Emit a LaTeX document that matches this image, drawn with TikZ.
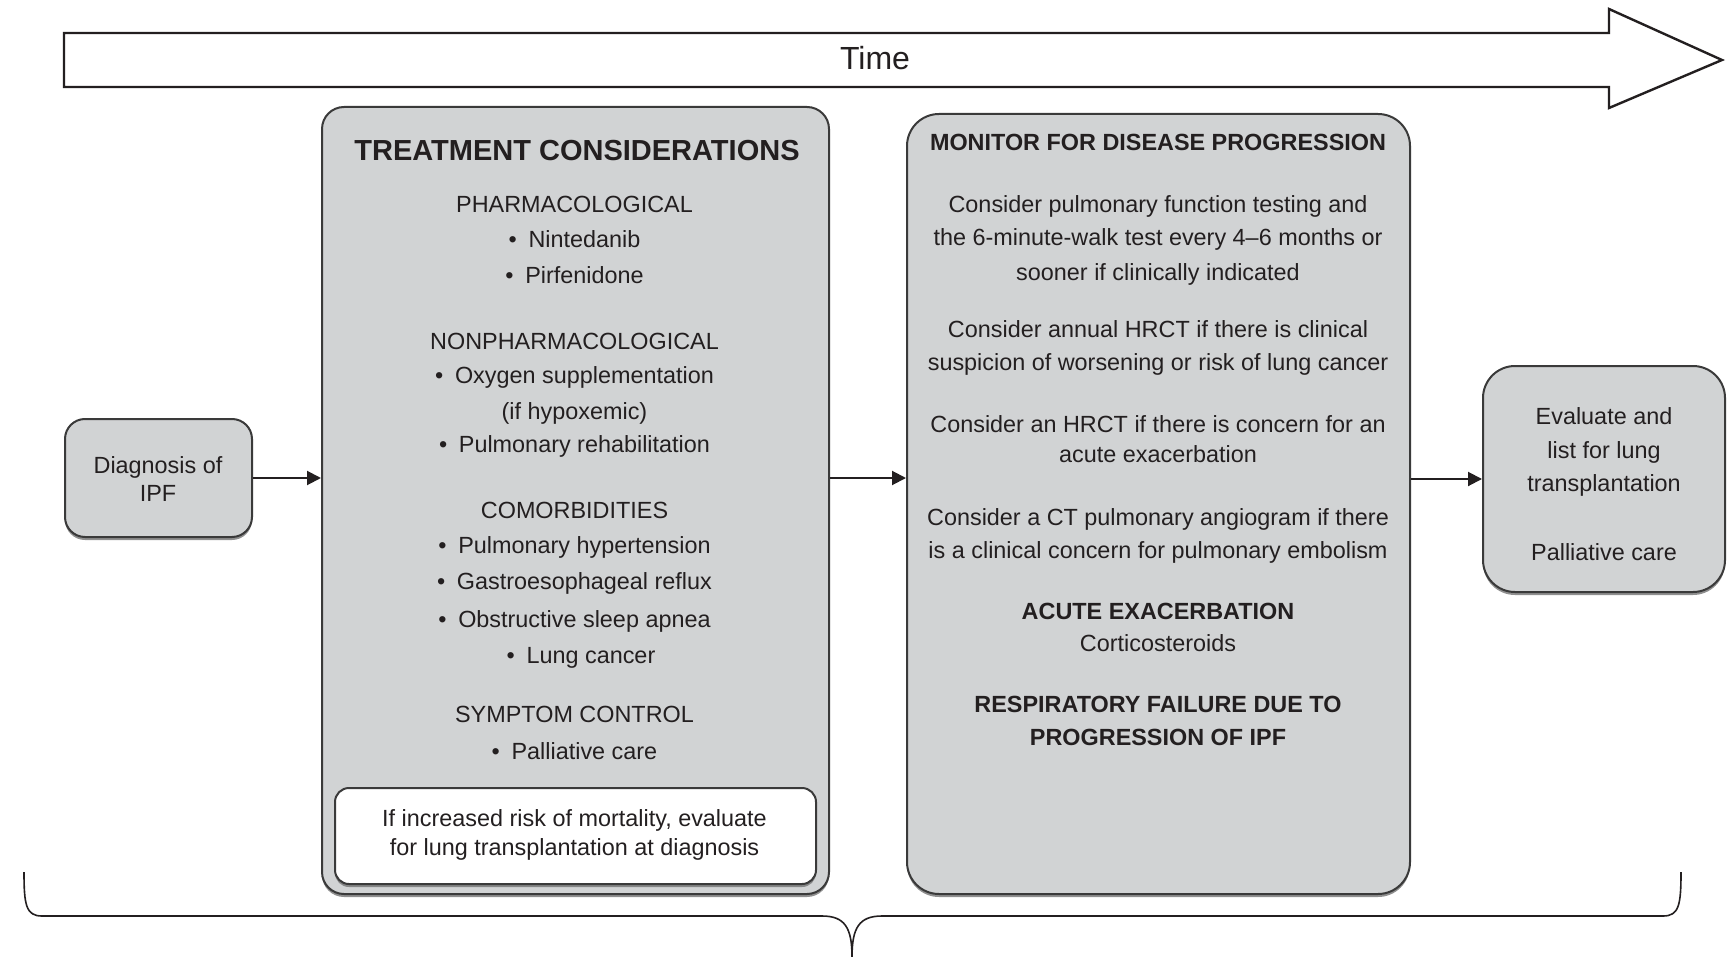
\documentclass[tikz,border=0pt]{standalone}
\usepackage{fontspec}
\setmainfont{Liberation Sans}
\usetikzlibrary{arrows.meta,shadows}
\definecolor{boxfill}{HTML}{D1D3D4}
\definecolor{ink}{HTML}{231F20}
\definecolor{edgecol}{HTML}{3A3A3A}
\newcommand{\bitem}{\textbullet\hspace{0.5em}}
\begin{document}
\begin{tikzpicture}[x=0.5pt,y=-0.5pt,
  box/.style={draw=edgecol, line width=1pt, fill=boxfill, rounded corners=#1, inner sep=0pt,
    drop shadow={shadow xshift=0pt, shadow yshift=-1.5pt, fill=black!55, opacity=0.8}},
  wbox/.style={box=#1, fill=white},
  txt/.style={anchor=base, inner sep=0pt, text=ink, font=\fontsize{11.7}{14}\selectfont},
  hd/.style={txt, font=\fontsize{14.5}{18}\selectfont\bfseries},
  bhd/.style={txt, font=\fontsize{11.7}{14}\selectfont\bfseries},
  conn/.style={draw=ink, line width=1pt, -{Triangle[length=7pt,width=7pt]}},
  bracestyle/.style={draw=ink, line width=0.8pt}
]
\useasboundingbox (0,0) rectangle (1734,957);

% Time arrow
\draw[draw=ink, line width=1.2pt, fill=white]
  (64,33) -- (1609,33) -- (1609,9) -- (1722,60) -- (1609,108) -- (1609,87) -- (64,87) -- cycle;
\node[txt, font=\fontsize{16}{18}\selectfont] (time) at (875,70) {Time};

% Boxes
\node[box=10pt, minimum width=93.5pt, minimum height=59pt] (diag) at (158.5,478) {};
\node[box=11pt, minimum width=253.5pt, minimum height=393.5pt] (treat) at (575.5,500.5) {};
\node[wbox=7pt, minimum width=240.5pt, minimum height=48pt] (inner) at (575.5,836) {};
\node[box=16pt, minimum width=251.5pt, minimum height=390pt] (mon) at (1158.5,504) {};
\node[box=16pt, minimum width=121pt, minimum height=113pt] (eval) at (1604,479) {};

% Diagnosis text
\node[txt] (d1) at (158,473) {Diagnosis of};
\node[txt] (d2) at (158,501) {IPF};

% Treatment text
\node[hd] (t0) at (577,160.5) {TREATMENT CONSIDERATIONS};
\node[txt] (t1) at (574.5,212.5) {PHARMACOLOGICAL};
\node[txt] (t2) at (574.5,248) {\bitem Nintedanib};
\node[txt] (t3) at (574.5,284) {\bitem Pirfenidone};
\node[txt] (t4) at (574.5,349) {NONPHARMACOLOGICAL};
\node[txt] (t5) at (574.5,383) {\bitem Oxygen supplementation};
\node[txt] (t6) at (574.5,419) {(if hypoxemic)};
\node[txt] (t7) at (574.5,452) {\bitem Pulmonary rehabilitation};
\node[txt] (t8) at (574.5,518.5) {COMORBIDITIES};
\node[txt] (t9) at (574.5,553) {\bitem Pulmonary hypertension};
\node[txt] (t10) at (574.5,589) {\bitem Gastroesophageal reflux};
\node[txt] (t11) at (574.5,627) {\bitem Obstructive sleep apnea};
\node[txt] (t12) at (581,663) {\bitem Lung cancer};
\node[txt] (t13) at (574.5,722) {SYMPTOM CONTROL};
\node[txt] (t14) at (574.5,759) {\bitem Palliative care};
\node[txt] (i1) at (574.5,826) {If increased risk of mortality, evaluate};
\node[txt] (i2) at (574.5,855) {for lung transplantation at diagnosis};

% Monitor text
\node[bhd] (m0) at (1158,151) {MONITOR FOR DISEASE PROGRESSION};
\node[txt] (m1) at (1158,213) {Consider pulmonary function testing and};
\node[txt] (m2) at (1158,246) {the 6-minute-walk test every 4–6 months or};
\node[txt] (m3) at (1158,280) {sooner if clinically indicated};
\node[txt] (m4) at (1158,337) {Consider annual HRCT if there is clinical};
\node[txt] (m5) at (1158,370) {suspicion of worsening or risk of lung cancer};
\node[txt] (m6) at (1158,432) {Consider an HRCT if there is concern for an};
\node[txt] (m7) at (1158,462) {acute exacerbation};
\node[txt] (m8) at (1158,525) {Consider a CT pulmonary angiogram if there};
\node[txt] (m9) at (1158,558) {is a clinical concern for pulmonary embolism};
\node[bhd] (m10) at (1158,619) {ACUTE EXACERBATION};
\node[txt] (m11) at (1158,651) {Corticosteroids};
\node[bhd] (m12) at (1158,712) {RESPIRATORY FAILURE DUE TO};
\node[bhd] (m13) at (1158,745) {PROGRESSION OF IPF};

% Evaluate text
\node[txt] (e1) at (1604,424) {Evaluate and};
\node[txt] (e2) at (1604,458) {list for lung};
\node[txt] (e3) at (1604,491) {transplantation};
\node[txt] (e4) at (1604,560) {Palliative care};

% Connectors
\draw[conn] (diag.east) -- (diag.east -| treat.west);
\draw[conn] (treat.east |- diag.east) -- (mon.west |- diag.east);
\draw[conn] (mon.east |- eval.west) -- (eval.west);

% Brace
\coordinate (bl) at (24,872);
\coordinate (br) at (1681,872);
\coordinate (btip) at (852,957);
\draw[bracestyle] (bl) .. controls (24,905) and (26,916) .. (42,916) -- (822,916)
  .. controls (845,916) and (852,928) .. (btip);
\draw[bracestyle] (btip) .. controls (852,928) and (859,916) .. (882,916) -- (1663,916)
  .. controls (1679,916) and (1681,905) .. (br);
\end{tikzpicture}
\end{document}
